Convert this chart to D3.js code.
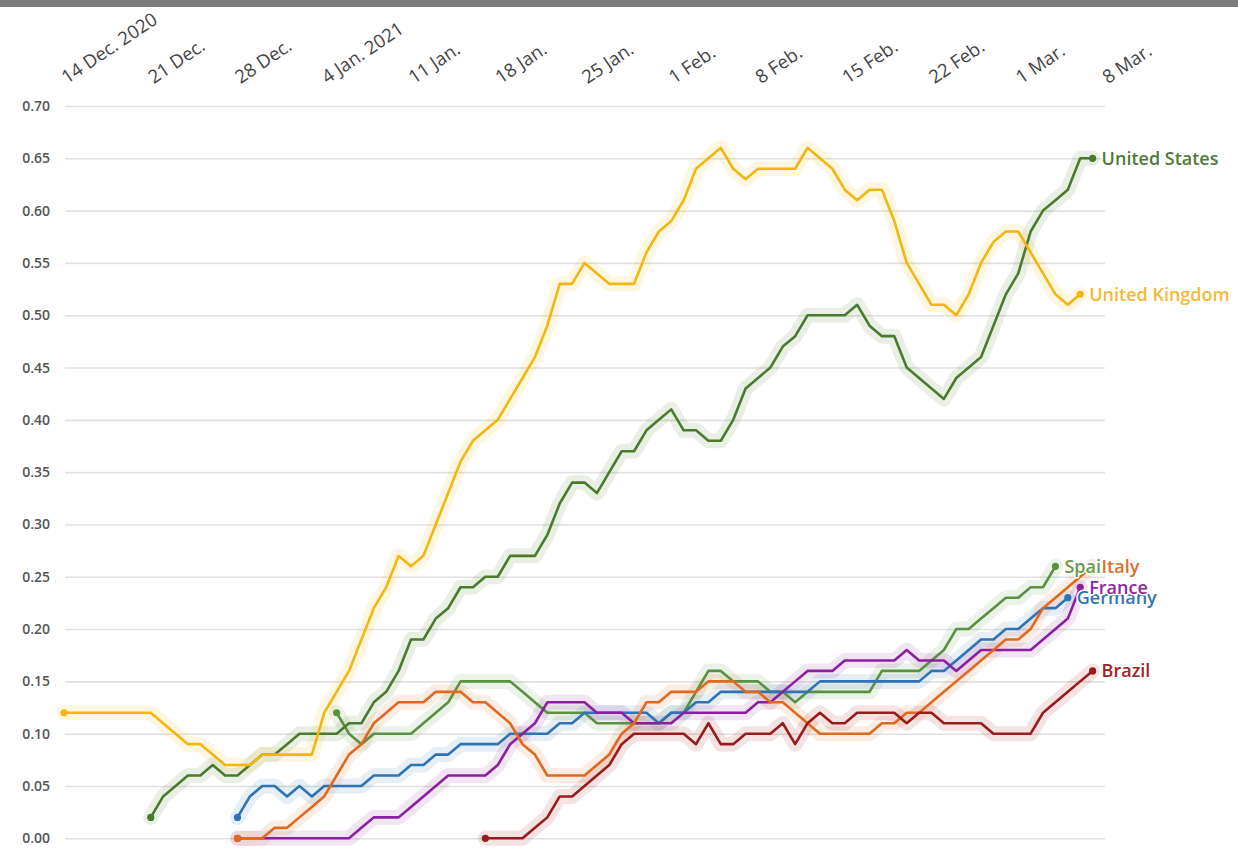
<!DOCTYPE html>
<html>
<head>
<meta charset="utf-8">
<script src="https://cdn.jsdelivr.net/npm/d3@7"></script>
<style>
	body { margin: 0; background: #fff; }
	svg { display: block; font-family: "Open Sans", "Noto Sans", sans-serif; }
</style>
</head>
<body>
<div id="chart"></div>
<script>

///////////////////////////////////////////////////////////////////////
// data (share of population, daily)

const tickDates = [ "2020-12-14", "2020-12-21", "2020-12-28", "2021-01-04", "2021-01-11",
	"2021-01-18", "2021-01-25", "2021-02-01", "2021-02-08", "2021-02-15", "2021-02-22",
	"2021-03-01", "2021-03-08" ];
const tickLabels = [ "14 Dec. 2020", "21 Dec.", "28 Dec.", "4 Jan. 2021", "11 Jan.",
	"18 Jan.", "25 Jan.", "1 Feb.", "8 Feb.", "15 Feb.", "22 Feb.", "1 Mar.", "8 Mar." ];
const yTicks = [ 0, 0.05, 0.10, 0.15, 0.20, 0.25, 0.30, 0.35, 0.40, 0.45, 0.50, 0.55, 0.60, 0.65, 0.70 ];

const countries  = [ "Spain", "United States", "United Kingdom", "Germany", "France", "Italy", "Brazil" ];
const startDates = [ "2021-01-05", "2020-12-21", "2020-12-14", "2020-12-28", "2020-12-28", "2020-12-28", "2021-01-17" ];

const ukValues = [ 0.12, 0.12, 0.12, 0.12, 0.12, 0.12, 0.12, 0.12, 0.11, 0.10,
	0.09, 0.09, 0.08, 0.07, 0.07, 0.07, 0.08, 0.08, 0.08, 0.08,
	0.08, 0.12, 0.14, 0.16, 0.19, 0.22, 0.24, 0.27, 0.26, 0.27,
	0.30, 0.33, 0.36, 0.38, 0.39, 0.40, 0.42, 0.44, 0.46, 0.49,
	0.53, 0.53, 0.55, 0.54, 0.53, 0.53, 0.53, 0.56, 0.58, 0.59,
	0.61, 0.64, 0.65, 0.66, 0.64, 0.63, 0.64, 0.64, 0.64, 0.64,
	0.66, 0.65, 0.64, 0.62, 0.61, 0.62, 0.62, 0.59, 0.55, 0.53,
	0.51, 0.51, 0.50, 0.52, 0.55, 0.57, 0.58, 0.58, 0.56, 0.54,
	0.52, 0.51, 0.52 ];

const usValues = [ 0.02, 0.04, 0.05, 0.06, 0.06, 0.07, 0.06, 0.06, 0.07, 0.08,
	0.08, 0.09, 0.10, 0.10, 0.10, 0.10, 0.11, 0.11, 0.13, 0.14,
	0.16, 0.19, 0.19, 0.21, 0.22, 0.24, 0.24, 0.25, 0.25, 0.27,
	0.27, 0.27, 0.29, 0.32, 0.34, 0.34, 0.33, 0.35, 0.37, 0.37,
	0.39, 0.40, 0.41, 0.39, 0.39, 0.38, 0.38, 0.40, 0.43, 0.44,
	0.45, 0.47, 0.48, 0.50, 0.50, 0.50, 0.50, 0.51, 0.49, 0.48,
	0.48, 0.45, 0.44, 0.43, 0.42, 0.44, 0.45, 0.46, 0.49, 0.52,
	0.54, 0.58, 0.60, 0.61, 0.62, 0.65, 0.65 ];

const spainValues = [ 0.12, 0.10, 0.09, 0.10, 0.10, 0.10, 0.10, 0.11, 0.12, 0.13,
	0.15, 0.15, 0.15, 0.15, 0.15, 0.14, 0.13, 0.12, 0.12, 0.12,
	0.12, 0.11, 0.11, 0.11, 0.11, 0.11, 0.11, 0.12, 0.12, 0.14,
	0.16, 0.16, 0.15, 0.15, 0.15, 0.14, 0.14, 0.13, 0.14, 0.14,
	0.14, 0.14, 0.14, 0.14, 0.16, 0.16, 0.16, 0.16, 0.17, 0.18,
	0.20, 0.20, 0.21, 0.22, 0.23, 0.23, 0.24, 0.24, 0.26 ];

const italyValues = [ 0.00, 0.00, 0.00, 0.01, 0.01, 0.02, 0.03, 0.04, 0.06, 0.08,
	0.09, 0.11, 0.12, 0.13, 0.13, 0.13, 0.14, 0.14, 0.14, 0.13,
	0.13, 0.12, 0.11, 0.09, 0.08, 0.06, 0.06, 0.06, 0.06, 0.07,
	0.08, 0.10, 0.11, 0.13, 0.13, 0.14, 0.14, 0.14, 0.15, 0.15,
	0.15, 0.14, 0.14, 0.13, 0.13, 0.12, 0.11, 0.10, 0.10, 0.10,
	0.10, 0.10, 0.11, 0.11, 0.12, 0.12, 0.13, 0.14, 0.15, 0.16,
	0.17, 0.18, 0.19, 0.19, 0.20, 0.22, 0.23, 0.24, 0.25, 0.26 ];

const germanyValues = [ 0.02, 0.04, 0.05, 0.05, 0.04, 0.05, 0.04, 0.05, 0.05, 0.05,
	0.05, 0.06, 0.06, 0.06, 0.07, 0.07, 0.08, 0.08, 0.09, 0.09,
	0.09, 0.09, 0.10, 0.10, 0.10, 0.10, 0.11, 0.11, 0.12, 0.12,
	0.12, 0.12, 0.12, 0.12, 0.11, 0.12, 0.12, 0.13, 0.13, 0.14,
	0.14, 0.14, 0.14, 0.14, 0.14, 0.14, 0.14, 0.15, 0.15, 0.15,
	0.15, 0.15, 0.15, 0.15, 0.15, 0.15, 0.16, 0.16, 0.17, 0.18,
	0.19, 0.19, 0.20, 0.20, 0.21, 0.22, 0.22, 0.23 ];

const franceValues = [ 0.00, 0.00, 0.00, 0.00, 0.00, 0.00, 0.00, 0.00, 0.00, 0.00,
	0.01, 0.02, 0.02, 0.02, 0.03, 0.04, 0.05, 0.06, 0.06, 0.06,
	0.06, 0.07, 0.09, 0.10, 0.11, 0.13, 0.13, 0.13, 0.13, 0.12,
	0.12, 0.12, 0.11, 0.11, 0.11, 0.11, 0.12, 0.12, 0.12, 0.12,
	0.12, 0.12, 0.13, 0.13, 0.14, 0.15, 0.16, 0.16, 0.16, 0.17,
	0.17, 0.17, 0.17, 0.17, 0.18, 0.17, 0.17, 0.17, 0.16, 0.17,
	0.18, 0.18, 0.18, 0.18, 0.18, 0.19, 0.20, 0.21, 0.24 ];

const brazilValues = [ 0.00, 0.00, 0.00, 0.00, 0.01, 0.02, 0.04, 0.04, 0.05, 0.06,
	0.07, 0.09, 0.10, 0.10, 0.10, 0.10, 0.10, 0.09, 0.11, 0.09,
	0.09, 0.10, 0.10, 0.10, 0.11, 0.09, 0.11, 0.12, 0.11, 0.11,
	0.12, 0.12, 0.12, 0.12, 0.11, 0.12, 0.12, 0.11, 0.11, 0.11,
	0.11, 0.10, 0.10, 0.10, 0.10, 0.12, 0.13, 0.14, 0.15, 0.16 ];

const seriesValues = [ spainValues, usValues, ukValues, germanyValues, franceValues, italyValues, brazilValues ];

///////////////////////////////////////////////////////////////////////
// styles

const lineColor = {
	"United Kingdom": "#f4b60c",
	"United States": "#4a7b2c",
	"Spain": "#5a9140",
	"Italy": "#e2681d",
	"France": "#8b1f9f",
	"Germany": "#2e73b3",
	"Brazil": "#9a1b1c"
};
const labelColor = {
	"United Kingdom": "#f4b935",
	"United States": "#4f7a37",
	"Spain": "#679a4c",
	"Italy": "#e06c29",
	"France": "#8e28a4",
	"Germany": "#3475b1",
	"Brazil": "#a02424"
};

const width = 1238, height = 848;

///////////////////////////////////////////////////////////////////////

let parse = d3.timeParse( "%Y-%m-%d" );

let series = countries.map( function( name, i ) {
	let start = parse( startDates[ i ] );
	return {
		name,
		points: seriesValues[ i ].map( ( v, k ) => ( { date: d3.timeDay.offset( start, k ), value: v } ) )
	};
} );

let svg = d3.select( "#chart" )
	.append( "svg" )
	.attr( "width", width )
	.attr( "height", height );

svg.append( "rect" )
	.attr( "width", width )
	.attr( "height", height )
	.attr( "fill", "#fff" );

// grey strip at the very top of the screenshot
svg.append( "rect" )
	.attr( "width", width )
	.attr( "height", 7 )
	.attr( "fill", "#7b7b7b" );

let x = d3.scaleTime()
	.domain( [ parse( tickDates[ 0 ] ), parse( tickDates[ tickDates.length - 1 ] ) ] )
	.range( [ 64, 1105 ] );

let y = d3.scaleLinear()
	.domain( [ 0, 0.7 ] )
	.range( [ 838.3, 106 ] );

// y axis: gridlines + labels
let yAxis = d3.axisLeft( y )
	.tickValues( yTicks )
	.tickFormat( d3.format( ".2f" ) )
	.tickSize( -( 1105 - 65 ) )
	.tickPadding( 15 );

let gy = svg.append( "g" )
	.attr( "transform", "translate(65,0)" )
	.call( yAxis );
gy.select( ".domain" ).remove();
gy.selectAll( ".tick line" )
	.attr( "stroke", "#e1e1e1" )
	.attr( "stroke-width", 1.6 );
gy.selectAll( ".tick text" )
	.attr( "fill", "#555" )
	.attr( "font-size", 14 )
	.attr( "font-weight", 600 )
	.attr( "font-family", "'Open Sans', 'Noto Sans', sans-serif" );

// x axis: rotated date labels above the plot
let xAxis = d3.axisTop( x )
	.tickValues( tickDates.map( parse ) )
	.tickFormat( ( d, i ) => tickLabels[ i ] )
	.tickSize( 0 );

let gx = svg.append( "g" )
	.attr( "transform", "translate(0,86)" )
	.call( xAxis );
gx.select( ".domain" ).remove();
gx.selectAll( ".tick text" )
	.attr( "fill", "#444" )
	.attr( "font-size", 18.5 )
	.attr( "font-family", "'Open Sans', 'Noto Sans', sans-serif" )
	.attr( "text-anchor", "start" )
	.attr( "x", 3 )
	.attr( "y", 0 )
	.attr( "dy", 0 )
	.attr( "transform", "rotate(-34)" );

let line = d3.line()
	.x( d => x( d.date ) )
	.y( d => y( d.value ) )
	.curve( d3.curveLinear );

// soft halo under each line
svg.append( "g" )
	.selectAll( "path" )
	.data( series )
	.join( "path" )
		.attr( "d", d => line( d.points ) )
		.attr( "fill", "none" )
		.attr( "stroke", d => lineColor[ d.name ] )
		.attr( "stroke-opacity", 0.12 )
		.attr( "stroke-width", 15 )
		.attr( "stroke-linejoin", "round" )
		.attr( "stroke-linecap", "round" );

svg.append( "g" )
	.selectAll( "path" )
	.data( series )
	.join( "path" )
		.attr( "d", d => line( d.points ) )
		.attr( "fill", "none" )
		.attr( "stroke", d => lineColor[ d.name ] )
		.attr( "stroke-width", 2.6 )
		.attr( "stroke-linejoin", "round" );

// start and end dots
let ends = [];
series.forEach( function( s ) {
	ends.push( { name: s.name, p: s.points[ 0 ] } );
	ends.push( { name: s.name, p: s.points[ s.points.length - 1 ] } );
} );

svg.append( "g" )
	.selectAll( "circle" )
	.data( ends )
	.join( "circle" )
		.attr( "cx", d => x( d.p.date ) )
		.attr( "cy", d => y( d.p.value ) )
		.attr( "r", 3.6 )
		.attr( "fill", d => lineColor[ d.name ] );

// end labels with white halo (the reference lets Spain/Italy and Germany/France collide)
svg.append( "g" )
	.selectAll( "text" )
	.data( series )
	.join( "text" )
		.attr( "x", d => x( d.points[ d.points.length - 1 ].date ) + 9 )
		.attr( "y", d => y( d.points[ d.points.length - 1 ].value ) )
		.attr( "dy", "0.35em" )
		.attr( "fill", d => labelColor[ d.name ] )
		.attr( "font-size", 18 )
		.attr( "font-weight", 600 )
		.attr( "stroke", "#fff" )
		.attr( "stroke-width", 3 )
		.attr( "stroke-linejoin", "round" )
		.attr( "paint-order", "stroke" )
		.text( d => d.name );

</script>
</body>
</html>
